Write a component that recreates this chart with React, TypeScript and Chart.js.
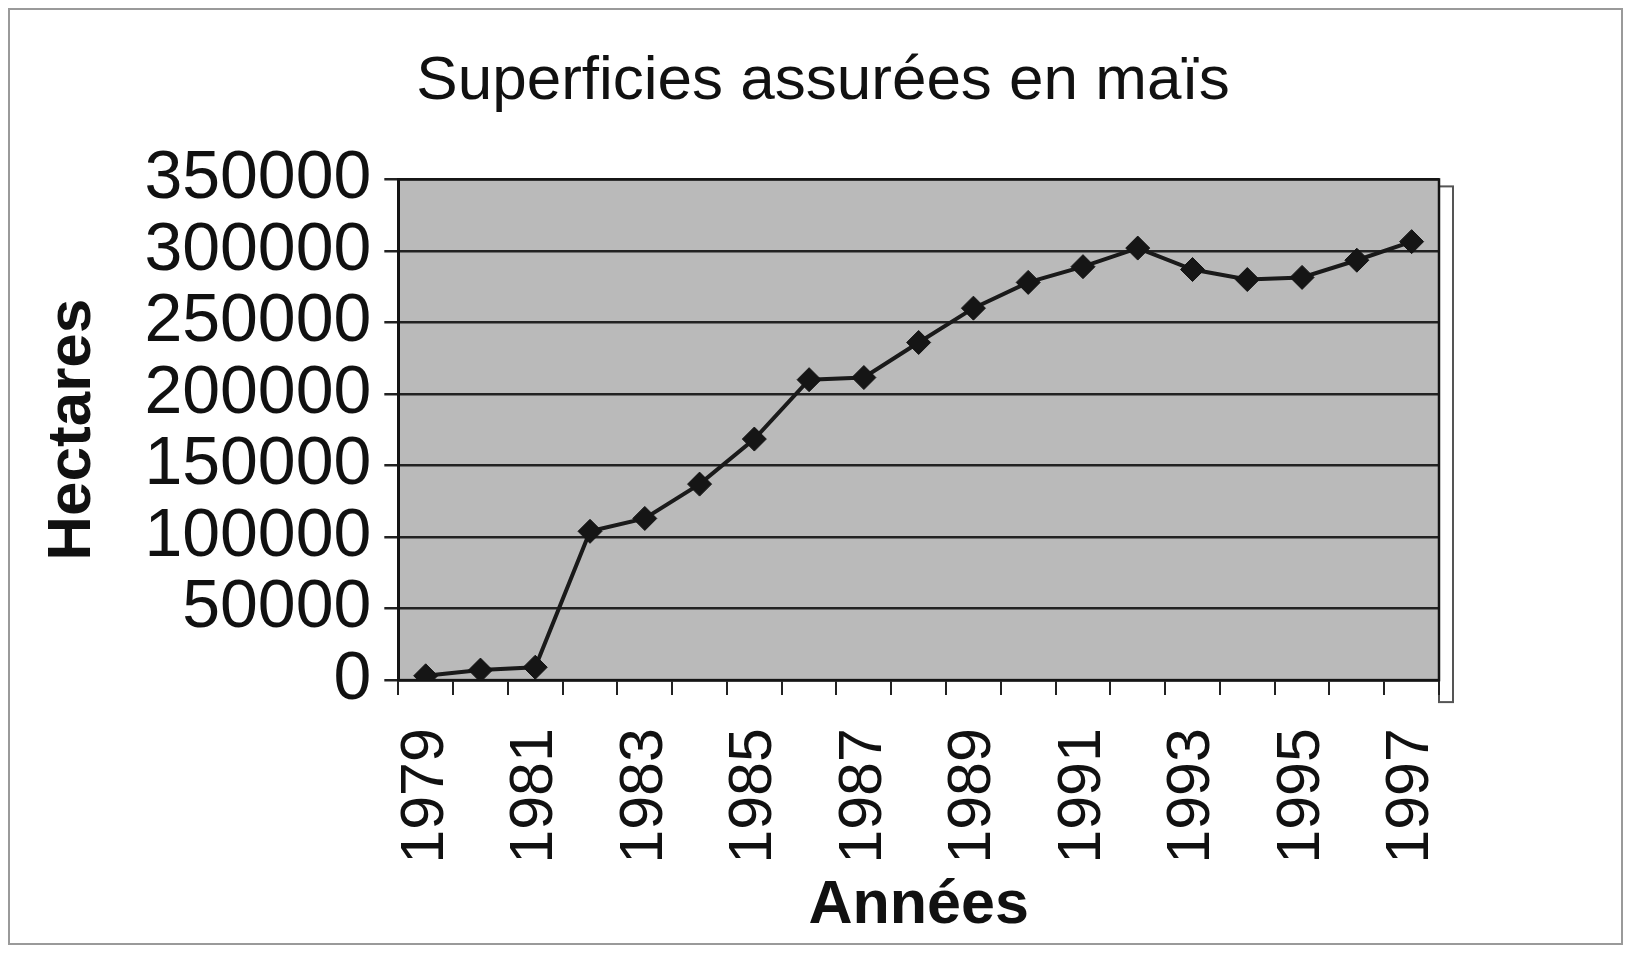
import React, { useEffect, useRef } from "react";
import { Chart, registerables } from "chart.js";

Chart.register(...registerables);

const years: string[] = [
  "1979", "1980", "1981", "1982", "1983", "1984", "1985", "1986", "1987", "1988",
  "1989", "1990", "1991", "1992", "1993", "1994", "1995", "1996", "1997",
];
const hectares: number[] = [
  3000, 7000, 9000, 104000, 113000, 137000, 168500, 210000, 211500, 236000,
  260000, 278000, 289000, 302000, 287000, 280000, 281500, 293500, 306500,
];
const yTicks: number[] = [0, 50000, 100000, 150000, 200000, 250000, 300000, 350000];

const TITLE = "Superficies assurées en maïs";
const X_TITLE = "Années";
const Y_TITLE = "Hectares";

const FONT = '"Liberation Sans", Arial, Helvetica, sans-serif';

const plotDecor = {
  id: "plotDecor",
  beforeDraw(chart: any) {
    const { ctx, chartArea: a } = chart;
    ctx.save();
    ctx.strokeStyle = "#555";
    ctx.lineWidth = 2;
    ctx.strokeRect(a.right, a.top + 7, 14, a.bottom - a.top + 15);
    ctx.fillStyle = "#bababa";
    ctx.fillRect(a.left, a.top, a.right - a.left, a.bottom - a.top);
    ctx.restore();
  },
  beforeDatasetsDraw(chart: any) {
    const { ctx, chartArea: a } = chart;
    ctx.save();
    ctx.strokeStyle = "#151515";
    ctx.lineWidth = 2.5;
    ctx.strokeRect(a.left, a.top, a.right - a.left, a.bottom - a.top);
    ctx.restore();
  },
};

export default function App() {
  const ref = useRef<HTMLCanvasElement | null>(null);

  useEffect(() => {
    if (!ref.current) return;
    const chart = new Chart(ref.current, {
      type: "line",
      data: {
        labels: years,
        datasets: [
          {
            data: hectares,
            yAxisID: "y",
            borderColor: "#1a1a1a",
            borderWidth: 4,
            pointStyle: "rectRot",
            pointRadius: 12,
            pointBackgroundColor: "#151515",
            pointBorderColor: "#151515",
            pointBorderWidth: 1,
            tension: 0,
            fill: false,
          },
        ],
      },
      options: {
        responsive: false,
        animation: false,
        layout: { padding: { left: 15, right: 0, top: 0, bottom: 0 } },
        plugins: {
          legend: { display: false },
          tooltip: { enabled: false },
          title: {
            display: true,
            text: TITLE,
            color: "#111",
            font: { family: FONT, size: 62, weight: "normal", lineHeight: 1.2 },
            padding: { top: 35, bottom: 60 },
          },
        },
        scales: {
          x: {
            type: "category",
            offset: true,
            border: { display: true, color: "#111", width: 2.5 },
            grid: {
              offset: true,
              drawOnChartArea: false,
              drawTicks: true,
              tickLength: 15,
              color: "#222",
              lineWidth: 2,
            },
            ticks: {
              autoSkip: false,
              maxRotation: 90,
              minRotation: 90,
              padding: 33,
              color: "#111",
              font: { family: FONT, size: 61, lineHeight: 1.2 },
              callback: (_v: any, i: number) => (i % 2 === 0 ? years[i] : ""),
            },
            title: {
              display: true,
              text: X_TITLE,
              color: "#111",
              font: { family: FONT, size: 61, weight: "bold", lineHeight: 1.2 },
              padding: { top: -27, bottom: 0 },
            },
          },
          y: {
            min: yTicks[0],
            max: yTicks[yTicks.length - 1],
            border: { display: true, color: "#111", width: 3 },
            grid: {
              drawOnChartArea: true,
              drawTicks: true,
              tickLength: 14,
              color: "#222",
              lineWidth: 2.5,
            },
            afterBuildTicks: (scale: any) => {
              scale.ticks = yTicks.map((v) => ({ value: v }));
            },
            ticks: {
              autoSkip: false,
              padding: 13,
              color: "#111",
              font: { family: FONT, size: 68, lineHeight: 1.2 },
              callback: (v: any) => String(v),
            },
            title: {
              display: true,
              text: Y_TITLE,
              color: "#111",
              font: { family: FONT, size: 62, weight: "bold", lineHeight: 1.2 },
              padding: { top: 11, bottom: 21 },
            },
          },
          spacer: {
            type: "linear",
            position: "right",
            display: true,
            grid: { display: false, drawTicks: false },
            border: { display: false },
            ticks: { display: false },
            afterFit: (scale: any) => {
              scale.width = 182;
            },
          },
        },
      },
      plugins: [plotDecor],
    });
    return () => chart.destroy();
  }, []);

  return (
    <div
      style={{
        width: 1615,
        height: 937,
        boxSizing: "border-box",
        border: "2px solid #9a9a9a",
        background: "#fff",
      }}
    >
      <canvas ref={ref} width={1611} height={933} style={{ display: "block" }} />
    </div>
  );
}
